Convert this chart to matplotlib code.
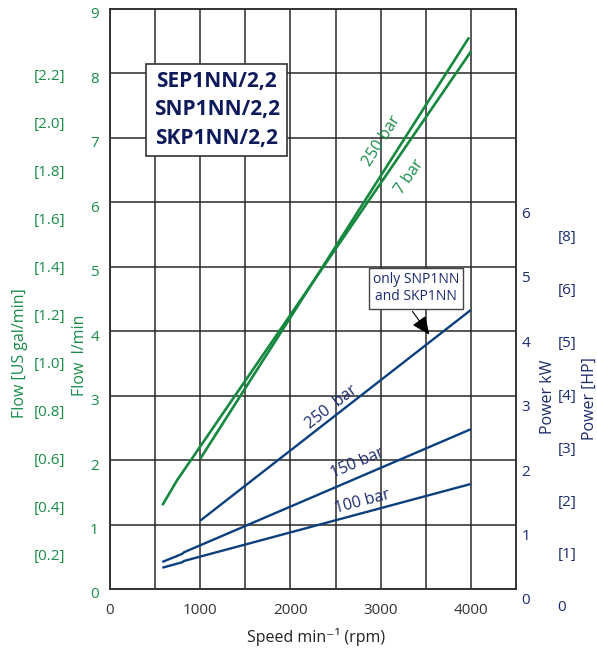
import matplotlib
matplotlib.use('Agg')
import matplotlib.pyplot as plt
import matplotlib.transforms as mtransforms
import numpy as np

plt.rcParams['font.family'] = ['Open Sans', 'DejaVu Sans']

# flow curves (l/min vs rpm)
speed_250_flow = [1000, 3980]
flow_250 = [2.02, 8.56]
speed_7_flow = [580, 745, 4000]
flow_7 = [1.30, 1.69, 8.34]

# power curves (kW vs rpm)
speed_p250 = [1000, 4000]
power_250 = [1.06, 4.33]
speed_p150 = [580, 800, 820, 4000]
power_150 = [0.42, 0.545, 0.57, 2.48]
speed_p100 = [580, 800, 820, 4000]
power_100 = [0.33, 0.415, 0.435, 1.63]

x_labels = [0, 1000, 2000, 3000, 4000]
flow_ticks = list(range(0, 10))
gal_ticks = [0.2, 0.4, 0.6, 0.8, 1.0, 1.2, 1.4, 1.6, 1.8, 2.0, 2.2]
kw_ticks = list(range(0, 7))
hp_ticks = list(range(0, 8))
hp_labels = ['0', '[1]', '[2]', '[3]', '[4]', '[5]', '[6]', '[8]']
models = ['SEP1NN/2,2', 'SNP1NN/2,2', 'SKP1NN/2,2']

GREEN = '#16883f'
GREEN_TXT = '#1a8c4a'
BLUE = '#0b3f7d'
NAVY = '#1c2b6e'
BOX_TXT = '#0f1a5a'
GRID = '#2a2a2a'

fig = plt.figure(figsize=(5.97, 6.49), dpi=100)
ax = fig.add_axes([110 / 597, 60 / 649, 406 / 597, 580 / 649])


def shift_labels(axis_obj, dy_px):
    off = mtransforms.ScaledTranslation(0, -dy_px / 100, fig.dpi_scale_trans)
    for lab in axis_obj.get_majorticklabels():
        lab.set_transform(lab.get_transform() + off)


ax.set_xlim(0, 4500)
ax.set_ylim(0, 9)
ax.set_xticks(x_labels)
ax.set_xticks(np.arange(500, 4500, 1000), minor=True)
ax.set_yticks(flow_ticks)
ax.grid(True, which='both', color=GRID, lw=1.1)
ax.set_axisbelow(True)
ax.tick_params(axis='both', which='both', length=0)
ax.tick_params(axis='x', labelsize=11, colors='#333333', pad=10)
ax.tick_params(axis='y', labelsize=11, labelcolor=GREEN_TXT, pad=8)
for s in ax.spines.values():
    s.set_color('#333333')
    s.set_linewidth(1.4)

# curves
ax.plot(speed_250_flow, flow_250, color=GREEN, lw=1.9, solid_capstyle='butt')
ax.plot(speed_7_flow, flow_7, color=GREEN, lw=1.9, solid_capstyle='butt')
ax.plot(speed_p250, power_250, color=BLUE, lw=1.7, solid_capstyle='butt')
ax.plot(speed_p150, power_150, color=BLUE, lw=1.7, solid_capstyle='butt')
ax.plot(speed_p100, power_100, color=BLUE, lw=1.7, solid_capstyle='butt')

# curve labels
ax.text(3015, 6.96, '250 bar', color=GREEN_TXT, fontsize=11.5, rotation=57.5,
        ha='center', va='center', rotation_mode='anchor')
ax.text(3320, 6.40, '7 bar', color=GREEN_TXT, fontsize=11.5, rotation=55.6,
        ha='center', va='center', rotation_mode='anchor')
ax.text(2461, 2.82, '250  bar', color=NAVY, fontsize=11.5, rotation=37.9,
        ha='center', va='center', rotation_mode='anchor')
ax.text(2738, 1.96, '150 bar', color=NAVY, fontsize=11.5, rotation=23.2,
        ha='center', va='center', rotation_mode='anchor')
ax.text(2794, 1.35, '100 bar', color=NAVY, fontsize=11.5, rotation=15,
        ha='center', va='center', rotation_mode='anchor')

# model box
ax.text(0.263, 0.826, '\n'.join(models), transform=ax.transAxes, fontsize=15,
        fontweight='bold', color=BOX_TXT, ha='center', va='center', linespacing=1.45,
        bbox=dict(boxstyle='square,pad=0.35', fc='white', ec='#333333', lw=1.2), zorder=5)

# note with arrow
ax.annotate('only SNP1NN\nand SKP1NN', xy=(3558, 3.91), xytext=(3392, 4.67),
            fontsize=10, color=NAVY, ha='center', va='center', linespacing=1.25,
            bbox=dict(boxstyle='square,pad=0.3', fc='white', ec='#444444', lw=1.0),
            arrowprops=dict(arrowstyle='-|>,head_length=0.8,head_width=0.35',
                            color='black', lw=0.8, relpos=(0.4, 0), mutation_scale=14),
            zorder=5)

ax.set_xlabel('Speed min\u207b\u00b9 (rpm)', fontsize=11.5, color='#222222', va='center')
ax.xaxis.set_label_coords(0.507, -0.083)
ax.set_ylabel('Flow  l/min', fontsize=11.5, color=GREEN_TXT, va='center')
ax.yaxis.set_label_coords(-0.074, 0.403)
shift_labels(ax.yaxis, 4)

# US gal/min axis
ax_gal = ax.twinx()
ax_gal.yaxis.tick_left()
ax_gal.yaxis.set_label_position('left')
ax_gal.set_ylim(0.058, 2.475)
ax_gal.set_yticks(gal_ticks)
ax_gal.set_yticklabels(['[%.1f]' % g for g in gal_ticks])
ax_gal.tick_params(axis='y', length=0, labelsize=11, labelcolor=GREEN_TXT, pad=32)
ax_gal.set_ylabel('Flow [US gal/min]', fontsize=11.5, color=GREEN_TXT, va='center')
ax_gal.yaxis.set_label_coords(-0.222, 0.407)
for s in ax_gal.spines.values():
    s.set_visible(False)

# kW axis
ax_kw = ax.twinx()
ax_kw.set_ylim(0, 9)
ax_kw.set_yticks(kw_ticks)
ax_kw.tick_params(axis='y', length=0, labelsize=11, labelcolor=NAVY, pad=4)
ax_kw.set_ylabel('Power kW', fontsize=11.5, color=NAVY, va='center', rotation=90)
ax_kw.yaxis.set_label_coords(1.079, 0.331)
for s in ax_kw.spines.values():
    s.set_visible(False)
shift_labels(ax_kw.yaxis, 10)

# HP axis
ax_hp = ax.twinx()
ax_hp.set_ylim(-0.057, 10.89)
ax_hp.set_yticks(hp_ticks)
ax_hp.set_yticklabels(hp_labels)
ax_hp.tick_params(axis='y', length=0, labelsize=11, labelcolor=NAVY, pad=30)
ax_hp.set_ylabel('Power [HP]', fontsize=11.5, color=NAVY, va='center', rotation=90)
ax_hp.yaxis.set_label_coords(1.182, 0.329)
for s in ax_hp.spines.values():
    s.set_visible(False)
shift_labels(ax_hp.yaxis, 20)

fig.savefig('out.png', dpi=100, facecolor='white')
